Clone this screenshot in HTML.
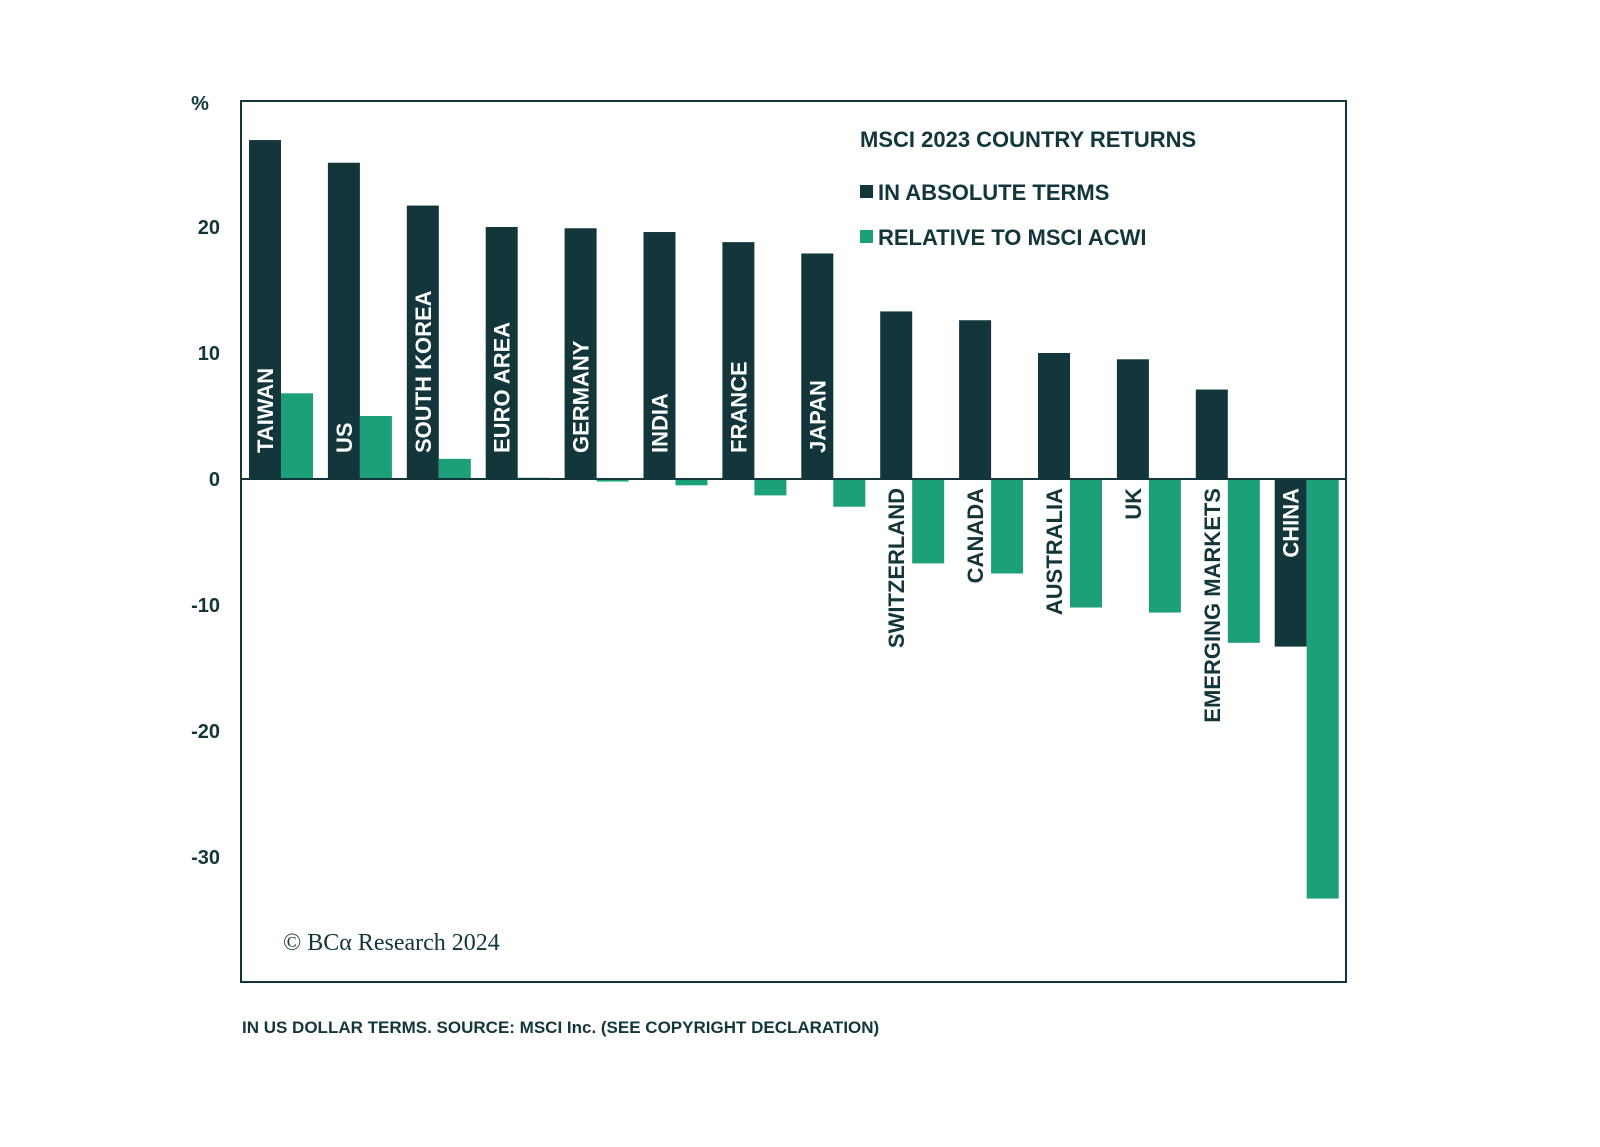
<!DOCTYPE html>
<html><head><meta charset="utf-8"><style>
body{margin:0;background:#fff;}
svg{display:block;font-family:"Liberation Sans",sans-serif;}
</style></head><body>
<svg width="1600" height="1147" viewBox="0 0 1600 1147">
<rect x="241" y="101" width="1105" height="881" fill="#fff" stroke="#12363a" stroke-width="2"/>
<g id="bars"></g>
<text x="200" y="110" text-anchor="middle" font-size="20" font-weight="bold" fill="#12363a">%</text>
<g id="ticks"></g>
<text x="860" y="147" font-size="22" font-weight="bold" fill="#12363a">MSCI 2023 COUNTRY RETURNS</text>
<rect x="860" y="185" width="13" height="13" fill="#12363a"/>
<text x="878" y="200" font-size="22" font-weight="bold" fill="#12363a">IN ABSOLUTE TERMS</text>
<rect x="860" y="230" width="13" height="13" fill="#1ba07a"/>
<text x="878" y="245" font-size="22" font-weight="bold" fill="#12363a">RELATIVE TO MSCI ACWI</text>
<text x="283" y="950" font-family="Liberation Serif,serif" font-size="24" fill="#12363a">© BCα Research 2024</text>
<text x="242" y="1033" font-size="17" font-weight="bold" fill="#12363a">IN US DOLLAR TERMS. SOURCE: MSCI Inc. (SEE COPYRIGHT DECLARATION)</text>
</svg>
<script>
const categories=["TAIWAN","US","SOUTH KOREA","EURO AREA","GERMANY","INDIA","FRANCE","JAPAN","SWITZERLAND","CANADA","AUSTRALIA","UK","EMERGING MARKETS","CHINA"];
const absolute=[26.9,25.1,21.7,20.0,19.9,19.6,18.8,17.9,13.3,12.6,10.0,9.5,7.1,-13.3];
const relative=[6.8,5.0,1.6,0.1,-0.2,-0.5,-1.3,-2.2,-6.7,-7.5,-10.2,-10.6,-13.0,-33.3];
const tickValues=[20,10,0,-10,-20,-30];
const tickLabels=["20","10","0","-10","-20","-30"];
const NS="http://www.w3.org/2000/svg";
const y=v=>479-v*12.6;
const xc=i=>249+i*78.9;
const bw=32;
const bars=document.getElementById('bars');
const ticks=document.getElementById('ticks');
tickValues.forEach((t,i)=>{
 const tx=document.createElementNS(NS,'text');
 tx.setAttribute('x',220);tx.setAttribute('y',y(t)+7);tx.setAttribute('text-anchor','end');
 tx.setAttribute('font-size','20');tx.setAttribute('font-weight','bold');tx.setAttribute('fill','#12363a');
 tx.textContent=tickLabels[i];
 
 
 ticks.appendChild(tx);
});
categories.forEach((c,i)=>{
 const x=xc(i);
 const a=document.createElementNS(NS,'rect');
 a.setAttribute('x',x);a.setAttribute('width',bw);
 a.setAttribute('y',Math.min(y(absolute[i]),y(0)));a.setAttribute('height',Math.abs(y(absolute[i])-y(0)));
 a.setAttribute('fill','#12363a');
 
 
 bars.appendChild(a);
 const r=document.createElementNS(NS,'rect');
 r.setAttribute('x',x+bw);r.setAttribute('width',bw);
 r.setAttribute('y',Math.min(y(relative[i]),y(0)));r.setAttribute('height',Math.max(1,Math.abs(y(relative[i])-y(0))));
 r.setAttribute('fill','#1ba07a');
 
 
 bars.appendChild(r);
 const t=document.createElementNS(NS,'text');
 const cx=x+bw/2+8;
 let anchor,ty,fill;
 if(absolute[i]>=0 && relative[i]>-5){anchor='start';ty=453;fill='#fff';}
 else if(absolute[i]>=0){anchor='end';ty=488;fill='#12363a';}
 else {anchor='end';ty=488;fill='#fff';}
 t.setAttribute('transform','translate('+cx+','+ty+') rotate(-90)');
 t.setAttribute('text-anchor',anchor);
 t.setAttribute('font-size','22');t.setAttribute('font-weight','bold');
 t.setAttribute('fill',fill);
 t.textContent=c;
 
 
 bars.appendChild(t);
});
const z=document.createElementNS(NS,'line');
z.setAttribute('x1',241);z.setAttribute('x2',1346);z.setAttribute('y1',y(0));z.setAttribute('y2',y(0));
z.setAttribute('stroke','#12363a');z.setAttribute('stroke-width','2');


bars.appendChild(z);
</script>
</body></html>
